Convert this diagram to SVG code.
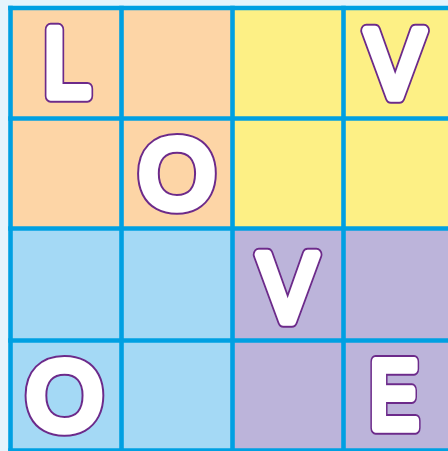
<svg xmlns="http://www.w3.org/2000/svg" width="448" height="451" viewBox="0 0 448 451">
<style>
.t{font-family:"Liberation Sans",Arial,sans-serif;font-size:97px;text-anchor:middle;stroke-linejoin:round;stroke-linecap:round}
.o{fill:#6c2a8a;stroke:#6c2a8a;stroke-width:13.5}
.w{fill:#ffffff;stroke:#ffffff;stroke-width:9.5}
.g line{stroke:#00a0e2;stroke-width:4.6}
</style>
<rect width="448" height="451" fill="#e5f4fc"/>
<g id="quadrants">
<rect x="10.5" y="8" width="222" height="220.5" fill="#fdd5a6"/>
<rect x="232.5" y="8" width="222" height="220.5" fill="#fdf085"/>
<rect x="10.5" y="228.5" width="222" height="224" fill="#a4d9f5"/>
<rect x="232.5" y="228.5" width="222" height="224" fill="#bcb4da"/>
</g>
<g id="grid" class="g">
<line x1="10.5" y1="5.7" x2="10.5" y2="451"/>
<line x1="121.5" y1="5.7" x2="121.5" y2="451"/>
<line x1="232.5" y1="5.7" x2="232.5" y2="451"/>
<line x1="343.5" y1="5.7" x2="343.5" y2="451"/>
<line x1="8.2" y1="8" x2="448" y2="8"/>
<line x1="8.2" y1="118.5" x2="448" y2="118.5"/>
<line x1="8.2" y1="228.5" x2="448" y2="228.5"/>
<line x1="8.2" y1="340.5" x2="448" y2="340.5"/>
<line x1="8.2" y1="450.5" x2="448" y2="450.5"/>
</g>
<g id="letter-L" transform="translate(67,96) scale(0.86,1)"><text class="t o">L</text><text class="t w">L</text></g>
<g id="letter-V1" transform="translate(395,97) scale(0.9,1)"><text class="t o">V</text><text class="t w">V</text></g>
<g id="letter-O1" transform="translate(177,207)"><text class="t o">O</text><text class="t w">O</text></g>
<g id="letter-V2" transform="translate(287.5,321) scale(0.9,1)"><text class="t o">V</text><text class="t w">V</text></g>
<g id="letter-O2" transform="translate(64.5,428.5)"><text class="t o">O</text><text class="t w">O</text></g>
<g id="letter-E" transform="translate(394,428) scale(0.76,1)"><text class="t o">E</text><text class="t w">E</text></g>
</svg>
